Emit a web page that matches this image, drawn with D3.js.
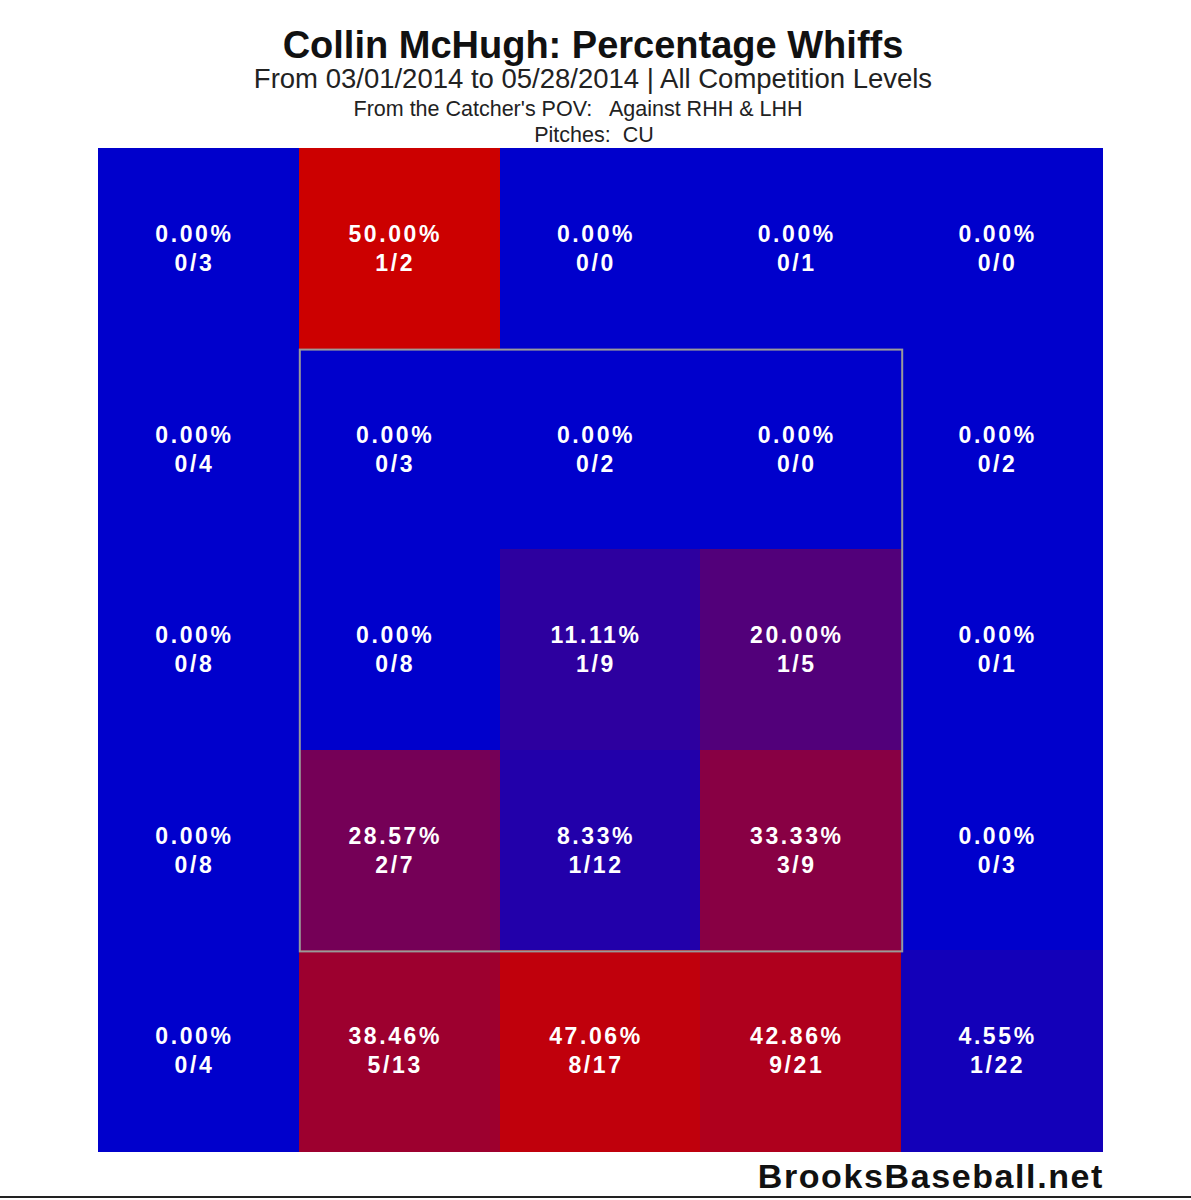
<!DOCTYPE html>
<html>
<head>
<meta charset="utf-8">
<script src="https://cdn.jsdelivr.net/npm/d3@7"></script>
<style>
  html, body { margin: 0; padding: 0; background: #ffffff; }
  svg { display: block; }
</style>
</head>
<body>
<script>
// ---- Data (rows top to bottom, columns left to right, catcher's POV) ----
const rowIds = [0, 1, 2, 3, 4];
const colIds = [0, 1, 2, 3, 4];
const whiffs = [
  [0, 1, 0, 0, 0],
  [0, 0, 0, 0, 0],
  [0, 0, 1, 1, 0],
  [0, 2, 1, 3, 0],
  [0, 5, 8, 9, 1]
];
const pitches = [
  [3, 2, 0, 1, 0],
  [4, 3, 2, 0, 2],
  [8, 8, 9, 5, 1],
  [8, 7, 12, 9, 3],
  [4, 13, 17, 21, 22]
];
const strikeZoneRows = [1, 3];
const strikeZoneCols = [1, 3];
const titleText = "Collin McHugh: Percentage Whiffs";
const subtitleText = "From 03/01/2014 to 05/28/2014 | All Competition Levels";
const povText = "From the Catcher's POV:   Against RHH & LHH";
const pitchText = "Pitches:  CU";
const creditText = "BrooksBaseball.net";

const W = 1191, H = 1200;
const svg = d3.select("body").append("svg")
  .attr("width", W).attr("height", H)
  .style("font-family", "'Liberation Sans', Arial, sans-serif");

const x = d3.scaleBand().domain(colIds).range([98, 1102]).padding(0);
const y = d3.scaleBand().domain(rowIds).range([148, 1151]).padding(0);
const color = d3.scaleLinear().domain([0, 0.5]).range(["#0000cc", "#cc0000"]).clamp(true);

const cells = [];
rowIds.forEach(r => colIds.forEach(c => {
  const w = whiffs[r][c], p = pitches[r][c];
  cells.push({ r, c, w, p, pct: p > 0 ? w / p : 0 });
}));

const g = svg.append("g").attr("shape-rendering", "crispEdges");
g.selectAll("rect.cell").data(cells).join("rect")
  .attr("class", "cell")
  .attr("x", d => Math.round(x(d.c)))
  .attr("y", d => Math.round(y(d.r)))
  .attr("width", d => Math.round(x(d.c) + x.bandwidth()) - Math.round(x(d.c)) + 1)
  .attr("height", d => Math.round(y(d.r) + y.bandwidth()) - Math.round(y(d.r)) + 1)
  .attr("fill", d => color(d.pct));

// Strike zone outline
svg.append("rect")
  .attr("x", x(strikeZoneCols[0]) + 1)
  .attr("y", y(strikeZoneRows[0]) + 1)
  .attr("width", x(strikeZoneCols[1]) + x.bandwidth() - x(strikeZoneCols[0]))
  .attr("height", y(strikeZoneRows[1]) + y.bandwidth() - y(strikeZoneRows[0]))
  .attr("fill", "none")
  .attr("stroke", "#9a9a9a")
  .attr("stroke-width", 2);

// Cell labels
const labels = svg.append("g")
  .attr("fill", "#ffffff")
  .attr("font-weight", "bold")
  .attr("font-size", 23)
  .attr("letter-spacing", 2.6)
  .attr("text-anchor", "middle");

labels.selectAll("text.pct").data(cells).join("text")
  .attr("class", "pct")
  .attr("x", d => x(d.c) + x.bandwidth() / 2 - 4)
  .attr("y", d => y(d.r) + 94)
  .text(d => (d.pct * 100).toFixed(2) + "%");

labels.selectAll("text.frac").data(cells).join("text")
  .attr("class", "frac")
  .attr("x", d => x(d.c) + x.bandwidth() / 2 - 4)
  .attr("y", d => y(d.r) + 123)
  .text(d => d.w + "/" + d.p);

// Titles
const cx = 593;
svg.append("text").attr("x", cx).attr("y", 58)
  .attr("text-anchor", "middle").attr("font-weight", "bold")
  .attr("font-size", 38).attr("fill", "#111")
  .text(titleText);
svg.append("text").attr("x", cx).attr("y", 88)
  .attr("text-anchor", "middle").attr("font-size", 27.5).attr("fill", "#222")
  .text(subtitleText);
svg.append("text").attr("x", cx - 15).attr("y", 116)
  .attr("text-anchor", "middle").attr("font-size", 21.5).attr("fill", "#222")
  .style("white-space", "pre").attr("xml:space", "preserve")
  .text(povText);
svg.append("text").attr("x", cx + 1).attr("y", 142)
  .attr("text-anchor", "middle").attr("font-size", 21.5).attr("fill", "#222")
  .style("white-space", "pre").attr("xml:space", "preserve")
  .text(pitchText);

// Credit
svg.append("text").attr("x", 1104).attr("y", 1188)
  .attr("text-anchor", "end").attr("font-weight", "bold")
  .attr("font-size", 34).attr("letter-spacing", 1.6).attr("fill", "#111")
  .text(creditText);

// Bottom border line
svg.append("line")
  .attr("x1", 0).attr("x2", W).attr("y1", 1197).attr("y2", 1197)
  .attr("stroke", "#222").attr("stroke-width", 2);
</script>
</body>
</html>
